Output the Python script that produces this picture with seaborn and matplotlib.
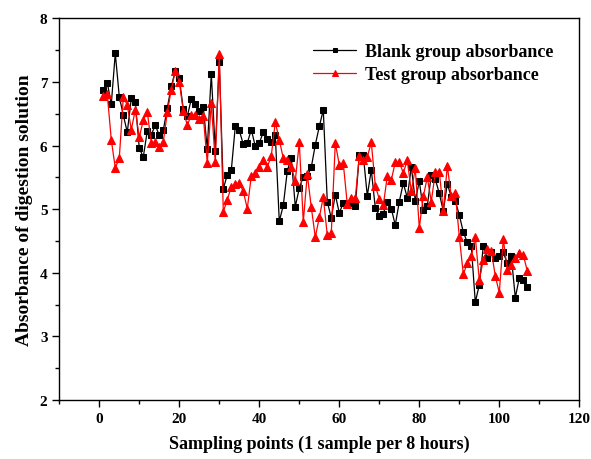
import numpy as np
import pandas as pd
import matplotlib
matplotlib.use("Agg")
import matplotlib.pyplot as plt
from matplotlib.ticker import MultipleLocator
import seaborn as sns

blank = [6.87, 6.99, 6.65, 7.45, 6.77, 6.48, 6.21, 6.74, 6.69, 5.96,
         5.82, 6.23, 6.17, 6.32, 6.16, 6.24, 6.59, 6.93, 7.17, 7.06,
         6.57, 6.46, 6.73, 6.66, 6.54, 6.61, 5.95, 7.13, 5.92, 7.32,
         5.32, 5.54, 5.61, 6.30, 6.24, 6.02, 6.04, 6.25, 5.99, 6.04,
         6.21, 6.10, 6.05, 6.17, 4.81, 5.06, 5.60, 5.81, 5.04, 5.33,
         5.51, 5.52, 5.66, 6.01, 6.30, 6.56, 5.12, 4.86, 5.23, 4.94,
         5.10, 5.08, 5.10, 5.05, 5.85, 5.85, 5.21, 5.62, 5.02, 4.90,
         4.93, 5.12, 5.01, 4.75, 5.12, 5.41, 5.18, 5.67, 5.13, 5.44,
         4.99, 5.05, 5.54, 5.47, 5.25, 4.97, 5.40, 5.19, 5.13, 4.91,
         4.64, 4.48, 4.42, 3.54, 3.81, 4.42, 4.23, 4.33, 4.23, 4.27,
         4.32, 4.15, 4.26, 3.61, 3.92, 3.88, 3.77]

test = [6.78, 6.81, 6.09, 5.65, 5.80, 6.76, 6.64, 6.25, 6.56, 6.13,
        6.40, 6.53, 6.04, 6.05, 5.97, 6.06, 6.52, 6.88, 7.17, 7.00,
        6.55, 6.32, 6.48, 6.48, 6.42, 6.46, 5.73, 6.67, 5.74, 7.44,
        4.96, 5.15, 5.35, 5.40, 5.41, 5.28, 5.01, 5.52, 5.57, 5.67,
        5.78, 5.66, 5.84, 6.37, 6.09, 5.80, 5.78, 5.66, 5.45, 6.05,
        4.80, 5.55, 5.03, 4.56, 4.87, 5.19, 4.59, 4.63, 6.04, 5.70,
        5.72, 5.08, 5.18, 5.17, 5.84, 5.77, 5.82, 6.05, 5.37, 5.16,
        5.06, 5.52, 5.46, 5.74, 5.74, 5.57, 5.77, 5.28, 5.64, 4.71,
        5.20, 5.50, 5.12, 5.58, 5.59, 4.97, 5.68, 5.20, 5.25, 4.57,
        3.98, 4.15, 4.26, 4.56, 3.89, 4.20, 4.37, 4.35, 3.95, 3.69,
        4.53, 4.05, 4.13, 4.23, 4.31, 4.28, 4.03]

samples = list(range(1, len(blank) + 1))
labels = ["Blank group absorbance", "Test group absorbance"]

sns.set_theme(style="ticks")
plt.rcParams["font.family"] = ["Liberation Serif", "DejaVu Serif"]
plt.rcParams["font.weight"] = "bold"
plt.rcParams["axes.labelweight"] = "bold"
plt.rcParams["text.color"] = "black"
plt.rcParams["axes.labelcolor"] = "black"
plt.rcParams["xtick.color"] = "black"
plt.rcParams["ytick.color"] = "black"
plt.rcParams["axes.edgecolor"] = "black"

fig = plt.figure(figsize=(5.91, 4.60), dpi=100)
ax = fig.add_axes([0.1003, 0.128, 0.8799, 0.830])

df = pd.DataFrame({"x": samples, "blank": blank, "test": test})

sns.lineplot(data=df, x="x", y="blank", ax=ax, color="black", linewidth=0.9,
             marker="s", markersize=4.3, markeredgecolor="black",
             markerfacecolor="black", label=labels[0])
sns.lineplot(data=df, x="x", y="test", ax=ax, color="#ff0000", linewidth=0.9,
             marker="^", markersize=5.3, markeredgecolor="#ff0000",
             markerfacecolor="#ff0000", label=labels[1])

ax.set_xlim(-10, 120)
ax.set_ylim(2, 8)
ax.xaxis.set_major_locator(MultipleLocator(20))
ax.xaxis.set_minor_locator(MultipleLocator(10))
ax.yaxis.set_major_locator(MultipleLocator(1))
ax.yaxis.set_minor_locator(MultipleLocator(0.5))
ax.tick_params(which="major", direction="out", length=5, width=1.0,
               labelsize=11, colors="black", labelcolor="black",
               top=False, right=False)
ax.tick_params(which="minor", direction="out", length=3, width=1.0,
               colors="black", top=False, right=False)
for lab in ax.get_xticklabels() + ax.get_yticklabels():
    lab.set_fontweight("bold")
    lab.set_color("black")
for sp in ax.spines.values():
    sp.set_visible(True)
    sp.set_color("black")
    sp.set_linewidth(1.0)

ax.set_xlabel("Sampling points (1 sample per 8 hours)", fontsize=13,
              fontweight="bold", color="black", labelpad=7)
ax.set_ylabel("Absorbance of digestion solution", fontsize=14,
              fontweight="bold", color="black", labelpad=5)

leg = ax.legend(loc="upper right", bbox_to_anchor=(0.982, 0.978), frameon=False,
                fontsize=13, handlelength=2.4, labelspacing=0.35,
                handletextpad=0.5, markerscale=0.75)
for t in leg.get_texts():
    t.set_fontweight("bold")
    t.set_color("black")

ax.grid(False)
fig.savefig("out.png", dpi=100)
